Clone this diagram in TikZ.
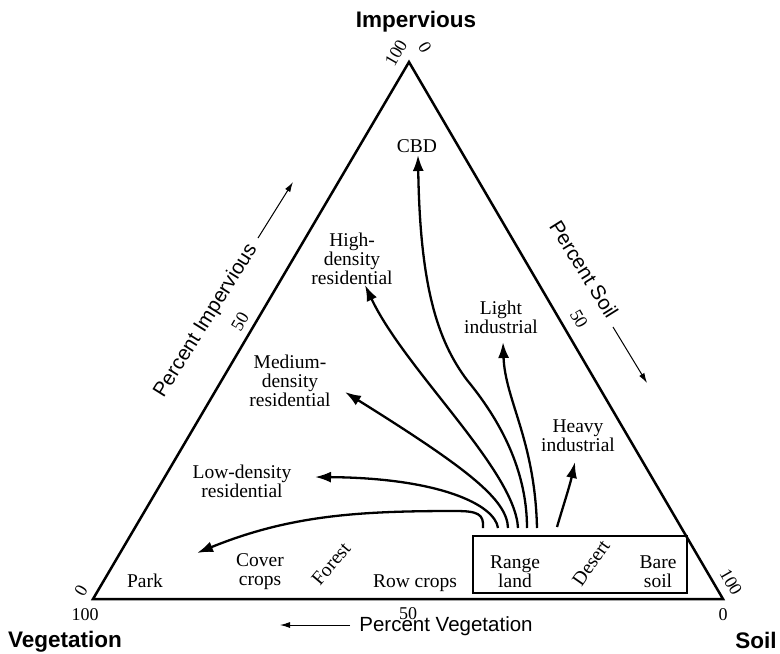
\documentclass[tikz,border=0pt]{standalone}
\usepackage{fontspec}
\setmainfont{Liberation Serif}
\newfontfamily\headsans{Liberation Sans}
\usetikzlibrary{arrows.meta}

\begin{document}
\begin{tikzpicture}[x=1pt,y=-1pt,
  lbl/.style={font=\fontsize{19.5}{19}\selectfont, align=center, inner sep=0pt},
  num/.style={font=\fontsize{18}{18}\selectfont, inner sep=0pt},
  head/.style={font=\headsans\bfseries\fontsize{22.5}{24}\selectfont, inner sep=0pt, anchor=base},
  axislbl/.style={font=\headsans\fontsize{20.5}{22}\selectfont, inner sep=0pt},
  flow/.style={line width=2.3pt, -{Latex[length=16pt,width=11pt]}},
  axisarrow/.style={line width=1pt, -{Latex[length=10pt,width=6pt]}},
  frame/.style={line width=2.5pt, line join=miter}]

\useasboundingbox (0,0) rectangle (780,654);

% corners of the ternary triangle
\coordinate (V) at (93,599);
\coordinate (S) at (723,599);
\coordinate (I) at (409,62);
\draw[frame] (V) -- (S) -- (I) -- cycle;

% arid land-cover box
\coordinate (boxA) at (473,536);
\coordinate (boxB) at (687,593);
\draw[frame] (boxA) rectangle (boxB);

% corner headings
\node[head] (hI) at (416,27) {Impervious};
\node[head] (hV) at (65,647) {Vegetation};
\node[head] (hS) at (756,648) {Soil};

% axis titles
\node[axislbl, anchor=base] (pV) at (446,631) {Percent Vegetation};
\coordinate (pVa) at (350,625);
\coordinate (pVb) at (280,625);
\draw[axisarrow] (pVa) -- (pVb);

\node[axislbl, rotate=58] (pI) at (206,321) {Percent Impervious};
\coordinate (pIa) at (258,238);
\coordinate (pIb) at (293,182);
\draw[axisarrow] (pIa) -- (pIb);

\node[axislbl, rotate=-58] (pS) at (584,269) {Percent Soil};
\coordinate (pSa) at (613,327);
\coordinate (pSb) at (647,383);
\draw[axisarrow] (pSa) -- (pSb);

% scale values
\node[num, anchor=base] (b100) at (85,620) {100};
\node[num, anchor=base] (b50) at (408,619) {50};
\node[num, anchor=base] (b0) at (723,620) {0};
\node[num, rotate=60] (l0) at (81,591) {0};
\node[num, rotate=60] (l50) at (240,322) {50};
\node[num, rotate=60] (l100) at (396,53) {100};
\node[num, rotate=-60] (r0) at (425,47) {0};
\node[num, rotate=-60] (r50) at (579,319) {50};
\node[num, rotate=-60] (r100) at (731,582) {100};

% land-cover classes along the base
\node[lbl, anchor=base] (park) at (145,587) {Park};
\node[lbl] (cover) at (260,572) {Cover\\crops};
\node[lbl, rotate=50] (forest) at (331,564) {Forest};
\node[lbl, anchor=base] (row) at (415,587) {Row crops};
\node[lbl] (range) at (515,572) {Range\\land};
\node[lbl, rotate=55] (desert) at (591,563) {Desert};
\node[lbl] (bare) at (658,572) {Bare\\soil};

% urban classes
\node[lbl, anchor=base] (cbd) at (417,152) {CBD};
\node[lbl] (high) at (352,259) {High-\\density\\residential};
\node[lbl] (med) at (290,381) {Medium-\\density\\residential};
\node[lbl] (low) at (242,481) {Low-density\\residential};
\node[lbl] (light) at (501,317) {Light\\industrial};
\node[lbl] (heavy) at (578,436) {Heavy\\industrial};

% start points of the development trajectories
\coordinate (sPark) at (483,528);
\coordinate (sLow) at (498,528);
\coordinate (sMed) at (508,528);
\coordinate (sHigh) at (518,528);
\coordinate (sCBD) at (527,528);
\coordinate (sLight) at (537,528);
\coordinate (sHeavy) at (557,527);

% arrow tips
\coordinate (tPark) at (197,553);
\coordinate (tLow) at (315,477);
\coordinate (tMed) at (345,392);
\coordinate (tHigh) at (365,285);
\coordinate (tCBD) at (418,155);
\coordinate (tLight) at (503,342);
\coordinate (tHeavy) at (575,462);

\draw[flow] (sPark) .. controls (484,514) and (478,511) .. (455,511)
               .. controls (360,511) and (290,515) .. (tPark);
\draw[flow] (sLow) .. controls (495,505) and (440,478) .. (tLow);
\draw[flow] (sMed) .. controls (507,500) and (470,470) .. (tMed);
\draw[flow] (sHigh) .. controls (515,470) and (405,370) .. (tHigh);
\draw[flow] (sCBD) .. controls (527,470) and (500,420) .. (467,380)
               .. controls (437,340) and (420,285) .. (tCBD);
\draw[flow] (sLight) .. controls (535,440) and (505,400) .. (tLight);
\draw[flow] (sHeavy) .. controls (562,510) and (570,485) .. (tHeavy);
\end{tikzpicture}
\end{document}
